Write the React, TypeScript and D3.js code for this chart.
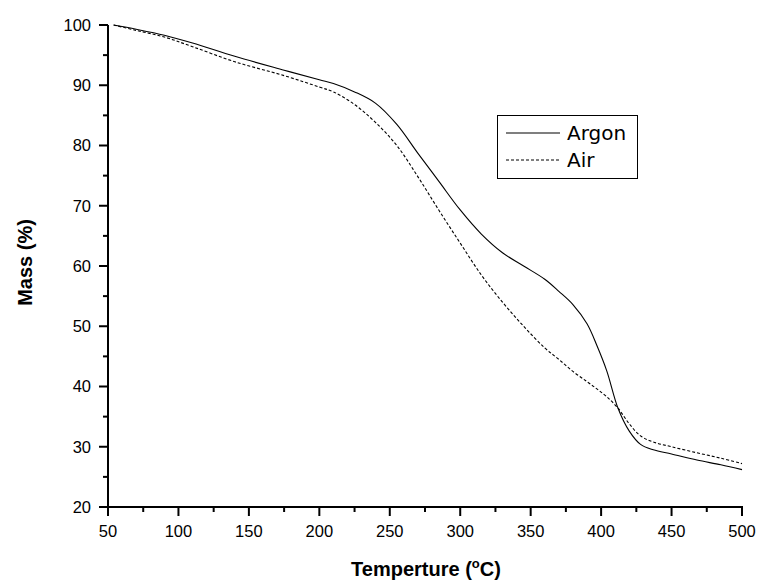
import React from "react";
import * as d3 from "d3";

const temps = [54, 70, 90, 110, 140, 175, 200, 210, 225, 240, 255, 270, 285, 300, 315, 330, 345, 360, 370, 380, 390, 397, 404, 412, 420, 428, 437, 450, 468, 485, 500];
const argon = [100, 99.3, 98.3, 97, 94.8, 92.5, 90.9, 90.3, 88.9, 87, 83.5, 78.7, 74, 69.3, 65.3, 62.2, 60, 57.8, 55.8, 53.6, 50.4, 46.8, 42.6, 36.4, 32.6, 30.4, 29.5, 28.8, 27.8, 27, 26.2];
const air = [100, 99.1, 98, 96.4, 93.9, 91.6, 89.7, 88.9, 86.8, 83.8, 80, 74.8, 69.2, 63.8, 58.5, 54, 50, 46.4, 44.5, 42.5, 40.8, 39.6, 38.3, 36.4, 33.8, 31.8, 30.8, 30, 29, 28.1, 27.2];
const xTicks = [50, 100, 150, 200, 250, 300, 350, 400, 450, 500];
const yTicks = [20, 30, 40, 50, 60, 70, 80, 90, 100];
const seriesNames = ["Argon", "Air"];

export default function App() {
  const x = d3.scaleLinear().domain([50, 500]).range([108, 742]);
  const y = d3.scaleLinear().domain([20, 100]).range([507, 25]);
  const xMinor = d3.range(75, 500, 50);
  const yMinor = d3.range(25, 100, 10);
  const line = d3
    .line<number>()
    .x((_, i) => x(temps[i]))
    .y((d) => y(d))
    .curve(d3.curveCatmullRom.alpha(0.5));
  const font = "'Liberation Sans', Arial, sans-serif";
  return (
    <svg width={762} height={583} style={{ position: "absolute", left: 0, top: 0, background: "#fff" }}>
      <path d={line(argon) || ""} fill="none" stroke="#000" strokeWidth={1.1} />
      <path d={line(air) || ""} fill="none" stroke="#000" strokeWidth={1.1} strokeDasharray="3,2" />
      {/* axes */}
      <line x1={108} x2={108} y1={y(100)} y2={y(20) + 1} stroke="#000" strokeWidth={2} />
      <line x1={107} x2={x(500) + 1} y1={507} y2={507} stroke="#000" strokeWidth={2} />
      {yTicks.map((t) => (
        <g key={"y" + t}>
          <line x1={99} x2={108} y1={y(t)} y2={y(t)} stroke="#000" strokeWidth={2} />
          <text x={91} y={y(t)} dy="0.36em" textAnchor="end" fontFamily={font} fontSize={16.5}>
            {t}
          </text>
        </g>
      ))}
      {yMinor.map((t) => (
        <line key={"ym" + t} x1={103} x2={108} y1={y(t)} y2={y(t)} stroke="#000" strokeWidth={2} />
      ))}
      {xTicks.map((t) => (
        <g key={"x" + t}>
          <line x1={x(t)} x2={x(t)} y1={507} y2={516} stroke="#000" strokeWidth={2} />
          <text x={x(t)} y={537} textAnchor="middle" fontFamily={font} fontSize={16.5}>
            {t}
          </text>
        </g>
      ))}
      {xMinor.map((t) => (
        <line key={"xm" + t} x1={x(t)} x2={x(t)} y1={507} y2={512} stroke="#000" strokeWidth={2} />
      ))}
      <text
        transform="translate(32,262.5) rotate(-90)"
        textAnchor="middle"
        fontFamily={font}
        fontWeight="bold"
        fontSize={20}
      >
        Mass (%)
      </text>
      <text x={426} y={576} textAnchor="middle" fontFamily={font} fontWeight="bold" fontSize={20}>
        Temperture (
        <tspan fontSize={13} dy={-8}>o</tspan>
        <tspan dy={8}>C)</tspan>
      </text>
      {/* legend */}
      <rect x={497.5} y={115.5} width={140} height={63} fill="#fff" stroke="#000" strokeWidth={1} />
      {seriesNames.map((n, i) => (
        <g key={n}>
          <line
            x1={506}
            x2={560}
            y1={133 + i * 27}
            y2={133 + i * 27}
            stroke="#000"
            strokeWidth={1.1}
            strokeDasharray={i === 1 ? "3,2" : undefined}
          />
          <text x={567} y={140 + i * 27} fontFamily="'DejaVu Sans', sans-serif" fontSize={20}>
            {n}
          </text>
        </g>
      ))}
    </svg>
  );
}
